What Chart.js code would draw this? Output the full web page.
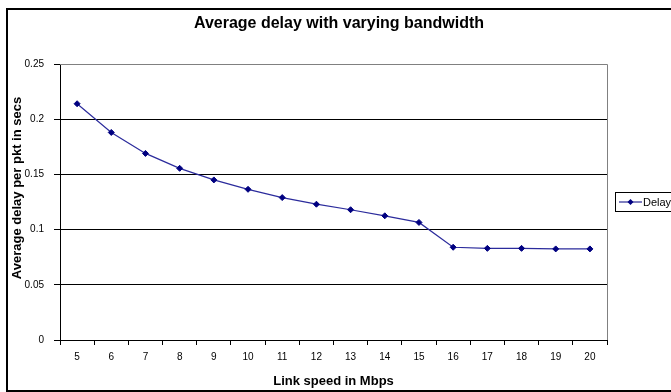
<!DOCTYPE html>
<html>
<head>
<meta charset="utf-8">
<script src="https://cdn.jsdelivr.net/npm/chart.js@4"></script>
<style>
  html, body { margin: 0; padding: 0; background: #fff; }
  #c { display: block; }
</style>
</head>
<body>
<canvas id="c" width="671" height="392"></canvas>
<script>
// Link speed (Mbps) and measured average delay per packet (seconds)
const speeds = ['5', '6', '7', '8', '9', '10', '11', '12', '13', '14', '15', '16', '17', '18', '19', '20'];
const delays = [0.214, 0.188, 0.169, 0.1555, 0.145, 0.1365, 0.129, 0.123, 0.118, 0.1125, 0.1065, 0.084, 0.083, 0.083, 0.0825, 0.0825];
const yTickLabels = ['0', '0.05', '0.1', '0.15', '0.2', '0.25'];
const seriesName = 'Delay';
const chartTitle = 'Average delay with varying bandwidth';
const yTitle = 'Average delay per pkt in secs';
const xTitle = 'Link speed in Mbps';

const FONT = '"Liberation Sans", Arial, sans-serif';
const NAVY = '#000080';

// Outer frame, titles, grey plot-area edges and a boxed legend on the right
const decorations = {
  id: 'decorations',
  beforeDatasetsDraw(chart) {
    const { ctx, chartArea: a } = chart;
    ctx.save();
    ctx.strokeStyle = '#808080';
    ctx.lineWidth = 1;
    ctx.beginPath();
    ctx.moveTo(a.left, Math.round(a.top) + 0.5);
    ctx.lineTo(Math.round(a.right) + 0.5, Math.round(a.top) + 0.5);
    ctx.lineTo(Math.round(a.right) + 0.5, a.bottom);
    ctx.stroke();
    ctx.restore();
  },
  afterDraw(chart) {
    const { ctx } = chart;
    ctx.save();
    // chart border
    ctx.strokeStyle = '#000';
    ctx.lineWidth = 2;
    ctx.beginPath();
    ctx.moveTo(690, 9);
    ctx.lineTo(7, 9);
    ctx.lineTo(7, 391);
    ctx.lineTo(690, 391);
    ctx.stroke();

    // chart title
    ctx.fillStyle = '#000';
    ctx.textAlign = 'center';
    ctx.textBaseline = 'middle';
    ctx.font = 'bold 16px ' + FONT;
    ctx.fillText(chartTitle, 339, 24);

    // value axis title
    ctx.save();
    ctx.translate(17, 188);
    ctx.rotate(-Math.PI / 2);
    ctx.font = 'bold 13px ' + FONT;
    ctx.fillText(yTitle, 0, 0);
    ctx.restore();

    // legend
    const lx = 615.5, ly = 192.5, lh = 19;
    ctx.lineWidth = 1;
    ctx.strokeStyle = '#000';
    ctx.strokeRect(lx, ly, 80, lh);
    const cy = ly + lh / 2;
    ctx.strokeStyle = NAVY;
    ctx.beginPath();
    ctx.moveTo(619, cy);
    ctx.lineTo(642, cy);
    ctx.stroke();
    ctx.fillStyle = NAVY;
    ctx.beginPath();
    ctx.moveTo(630.5, cy - 3);
    ctx.lineTo(633.5, cy);
    ctx.lineTo(630.5, cy + 3);
    ctx.lineTo(627.5, cy);
    ctx.closePath();
    ctx.fill();
    ctx.fillStyle = '#000';
    ctx.font = '11px ' + FONT;
    ctx.textBaseline = 'middle';
    ctx.textAlign = 'left';
    ctx.fillText(seriesName, 643, cy + 0.5);
    ctx.restore();
  }
};

new Chart(document.getElementById('c'), {
  type: 'line',
  data: {
    labels: speeds,
    datasets: [{
      label: seriesName,
      data: delays,
      borderColor: '#2b2b9c',
      borderWidth: 1.2,
      pointStyle: 'rectRot',
      pointRadius: 3,
      pointBackgroundColor: NAVY,
      pointBorderColor: NAVY,
      pointBorderWidth: 1,
      tension: 0,
      fill: false
    }]
  },
  options: {
    responsive: false,
    animation: false,
    devicePixelRatio: 1,
    layout: { padding: { left: 8, right: 64, top: 64, bottom: 3 } },
    plugins: {
      legend: { display: false },
      tooltip: { enabled: false },
      title: { display: false }
    },
    scales: {
      x: {
        type: 'category',
        offset: true,
        afterFit(scale) { scale.height = 49; },
        grid: {
          offset: true,
          drawOnChartArea: false,
          drawTicks: true,
          tickLength: 5,
          tickColor: '#000',
          color: '#000'
        },
        border: { display: true, color: '#000', width: 1 },
        ticks: {
          color: '#000',
          font: { family: FONT, size: 10 },
          padding: 6,
          maxRotation: 0,
          autoSkip: false
        },
        title: {
          display: true,
          text: xTitle,
          color: '#000',
          font: { family: FONT, size: 13, weight: 'bold' },
          padding: { top: 0, bottom: 0 }
        }
      },
      y: {
        min: 0,
        max: 0.25,
        afterFit(scale) { scale.width = 52; },
        grid: {
          color: (c) => (c.tick && c.tick.value >= 0.25 ? '#808080' : '#000'),
          tickColor: '#000',
          tickLength: 6,
          lineWidth: 1
        },
        border: { display: true, color: '#000', width: 1 },
        ticks: {
          stepSize: 0.05,
          color: '#000',
          font: { family: FONT, size: 10 },
          padding: 10,
          callback: (v, i) => yTickLabels[i]
        },
        title: { display: false }
      }
    }
  },
  plugins: [decorations]
});
</script>
</body>
</html>
